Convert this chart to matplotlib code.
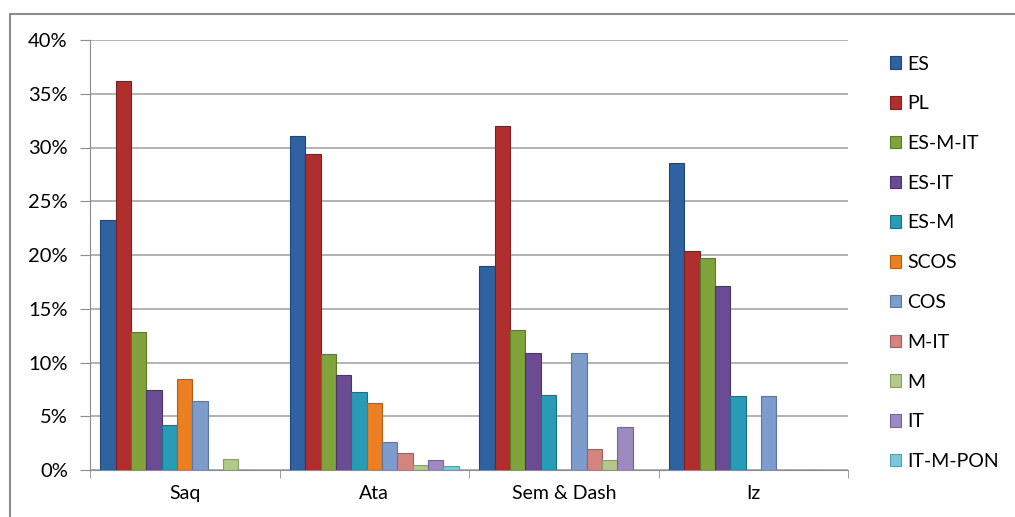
import numpy as np
import matplotlib.pyplot as plt
from matplotlib.patches import Rectangle
from matplotlib.ticker import PercentFormatter

# Datos del gráfico (porcentajes)
categorias = ['Saq', 'Ata', 'Sem & Dash', 'Iz']
series = ['ES', 'PL', 'ES-M-IT', 'ES-IT', 'ES-M', 'SCOS', 'COS', 'M-IT', 'M', 'IT', 'IT-M-PON']

es = [23.3, 31.1, 19.0, 28.6]
pl = [36.2, 29.4, 32.0, 20.4]
es_m_it = [12.8, 10.8, 13.0, 19.7]
es_it = [7.4, 8.8, 10.9, 17.1]
es_m = [4.2, 7.3, 7.0, 6.9]
scos = [8.5, 6.2, 0, 0]
cos = [6.4, 2.6, 10.9, 6.9]
m_it = [0, 1.6, 2.0, 0]
m = [1.0, 0.5, 0.9, 0]
it = [0, 0.9, 4.0, 0]
it_m_pon = [0, 0.4, 0, 0]

valores = [es, pl, es_m_it, es_it, es_m, scos, cos, m_it, m, it, it_m_pon]

colores = ['#2F62A0', '#B02F2E', '#80A33C', '#6B4C93', '#2A9BB6', '#EB7F22',
           '#7D9BCB', '#D38481', '#B3C98A', '#9E8AC0', '#7BC8DA']
bordes = ['#1F4677', '#7E1E1E', '#5C7A28', '#4B336C', '#1B7088', '#B35E14',
          '#5A76A2', '#A85F5C', '#86A060', '#75649A', '#54A0B3']

plt.rcParams['font.family'] = ['Lato', 'DejaVu Sans']

fig = plt.figure(figsize=(10.15, 5.17), dpi=100)
ax = fig.add_axes([90 / 1015, 47 / 517, 758 / 1015, 430 / 517])

n = len(series)
ancho = 1 / (n + 1.37)
x = np.arange(len(categorias))
inicio = x - n * ancho / 2

for i in range(n):
    ax.bar(inicio + i * ancho, valores[i], width=ancho, align='edge',
           color=colores[i], edgecolor=bordes[i], linewidth=0.8,
           label=series[i], zorder=3)

ax.set_xlim(-0.5, len(categorias) - 0.5)
ax.set_ylim(0, 40)
ax.set_yticks(range(0, 41, 5))
ax.yaxis.set_major_formatter(PercentFormatter(decimals=0))
ax.set_xticks(x)
ax.set_xticklabels(categorias)
ax.set_xticks(np.arange(-0.5, len(categorias), 1), minor=True)
ax.tick_params(axis='x', which='major', length=0, pad=11, labelsize=14)
ax.tick_params(axis='x', which='minor', length=6, color='#8C8C8C', direction='out')
ax.tick_params(axis='y', length=7, color='#8C8C8C', labelsize=14.5, pad=9)
ax.grid(axis='y', color='#A6A6A6', linewidth=1.2, zorder=0)

for lado in ['top', 'right']:
    ax.spines[lado].set_visible(False)
ax.spines['left'].set_color('#8C8C8C')
ax.spines['bottom'].set_color('#8C8C8C')

# Leyenda a la derecha
fig.legend(loc='upper left', bbox_to_anchor=(872 / 1015, 1 - 38 / 517),
           frameon=False, fontsize=14, handlelength=0.6, handleheight=0.6,
           handletextpad=0.3, labelspacing=1.17)

# Marco del gráfico
fig.patches.append(Rectangle((10 / 1015, -0.1), 1.2, 1 - 14 / 517 + 0.1,
                             transform=fig.transFigure, fill=False,
                             edgecolor='#8C8C8C', linewidth=1.5))

fig.savefig('out.png', dpi=100)
